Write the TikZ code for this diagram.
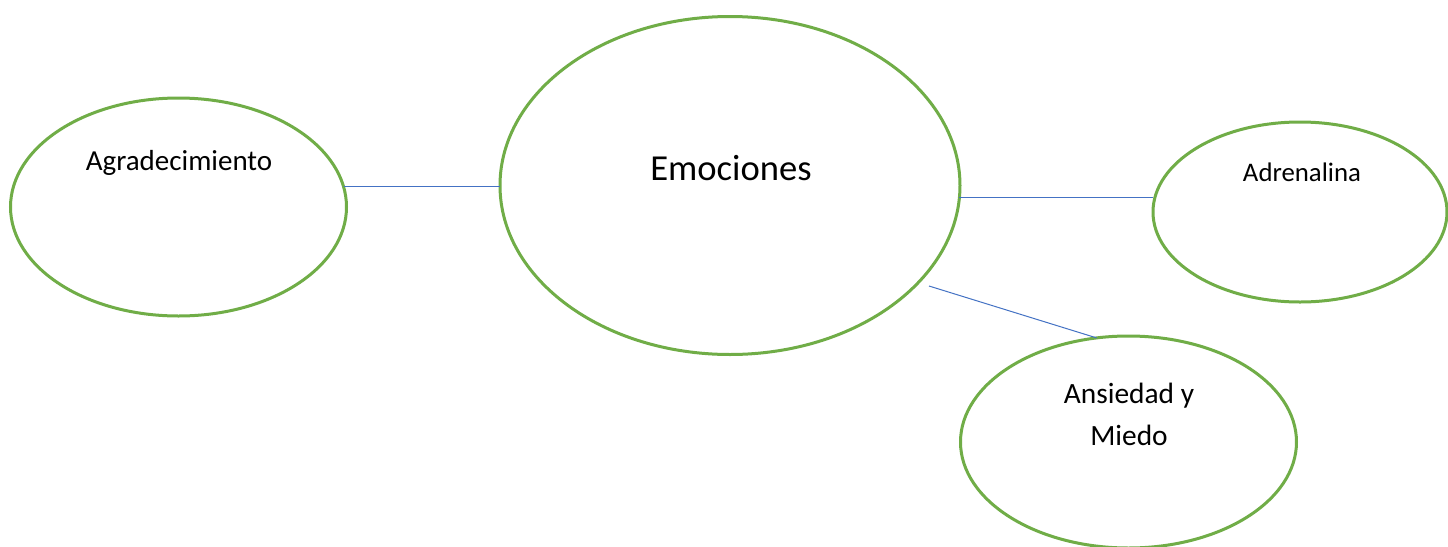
\documentclass[tikz,border=0pt]{standalone}
\usepackage{fontspec}
\setmainfont{Carlito}
\usetikzlibrary{shapes.geometric}
\definecolor{bubblegreen}{RGB}{112,173,71}
\definecolor{linkblue}{RGB}{68,114,196}
\tikzset{
  bubble/.style={ellipse,draw=bubblegreen,line width=1.5pt,inner sep=0pt,outer sep=0pt},
  link/.style={draw=linkblue,line width=0.5pt},
  word/.style={inner sep=0pt,outer sep=0pt,anchor=base,text=black}
}
\begin{document}
\begin{tikzpicture}[x=.5pt,y=-.5pt]
\path[use as bounding box,fill=white] (0,0) rectangle (1448,547);
% bubbles
\node[bubble,minimum width=168pt,minimum height=109pt] (agr) at (178.5,207) {};
\node[bubble,minimum width=230pt,minimum height=169pt] (emo) at (730,185.5) {};
\node[bubble,minimum width=147pt,minimum height=90pt] (adr) at (1300,212) {};
\node[bubble,minimum width=168pt,minimum height=106pt] (ans) at (1128.5,442) {};
% texts
\node[word,font=\fontsize{14.5}{17.4}\selectfont] (agr-txt) at (179,170) {Agradecimiento};
\node[word,font=\fontsize{18.3}{22}\selectfont] (emo-txt) at (731,180) {Emociones};
\node[word,font=\fontsize{13.4}{16}\selectfont] (adr-txt) at (1302,181) {Adrenalina};
\node[word,font=\fontsize{14.7}{17.6}\selectfont] (ans-txt) at (1129,403) {Ansiedad y};
\node[word,font=\fontsize{14.7}{17.6}\selectfont] (mie-txt) at (1129,445) {Miedo};
% links
\coordinate (emo-gap) at (929,286);
\draw[link] (agr.7) -- (agr.7 -| emo.west);
\draw[link] (emo.-3) -- (emo.-3 -| adr.west);
\draw[link] (emo-gap) -- (ans.107);
\end{tikzpicture}
\end{document}
